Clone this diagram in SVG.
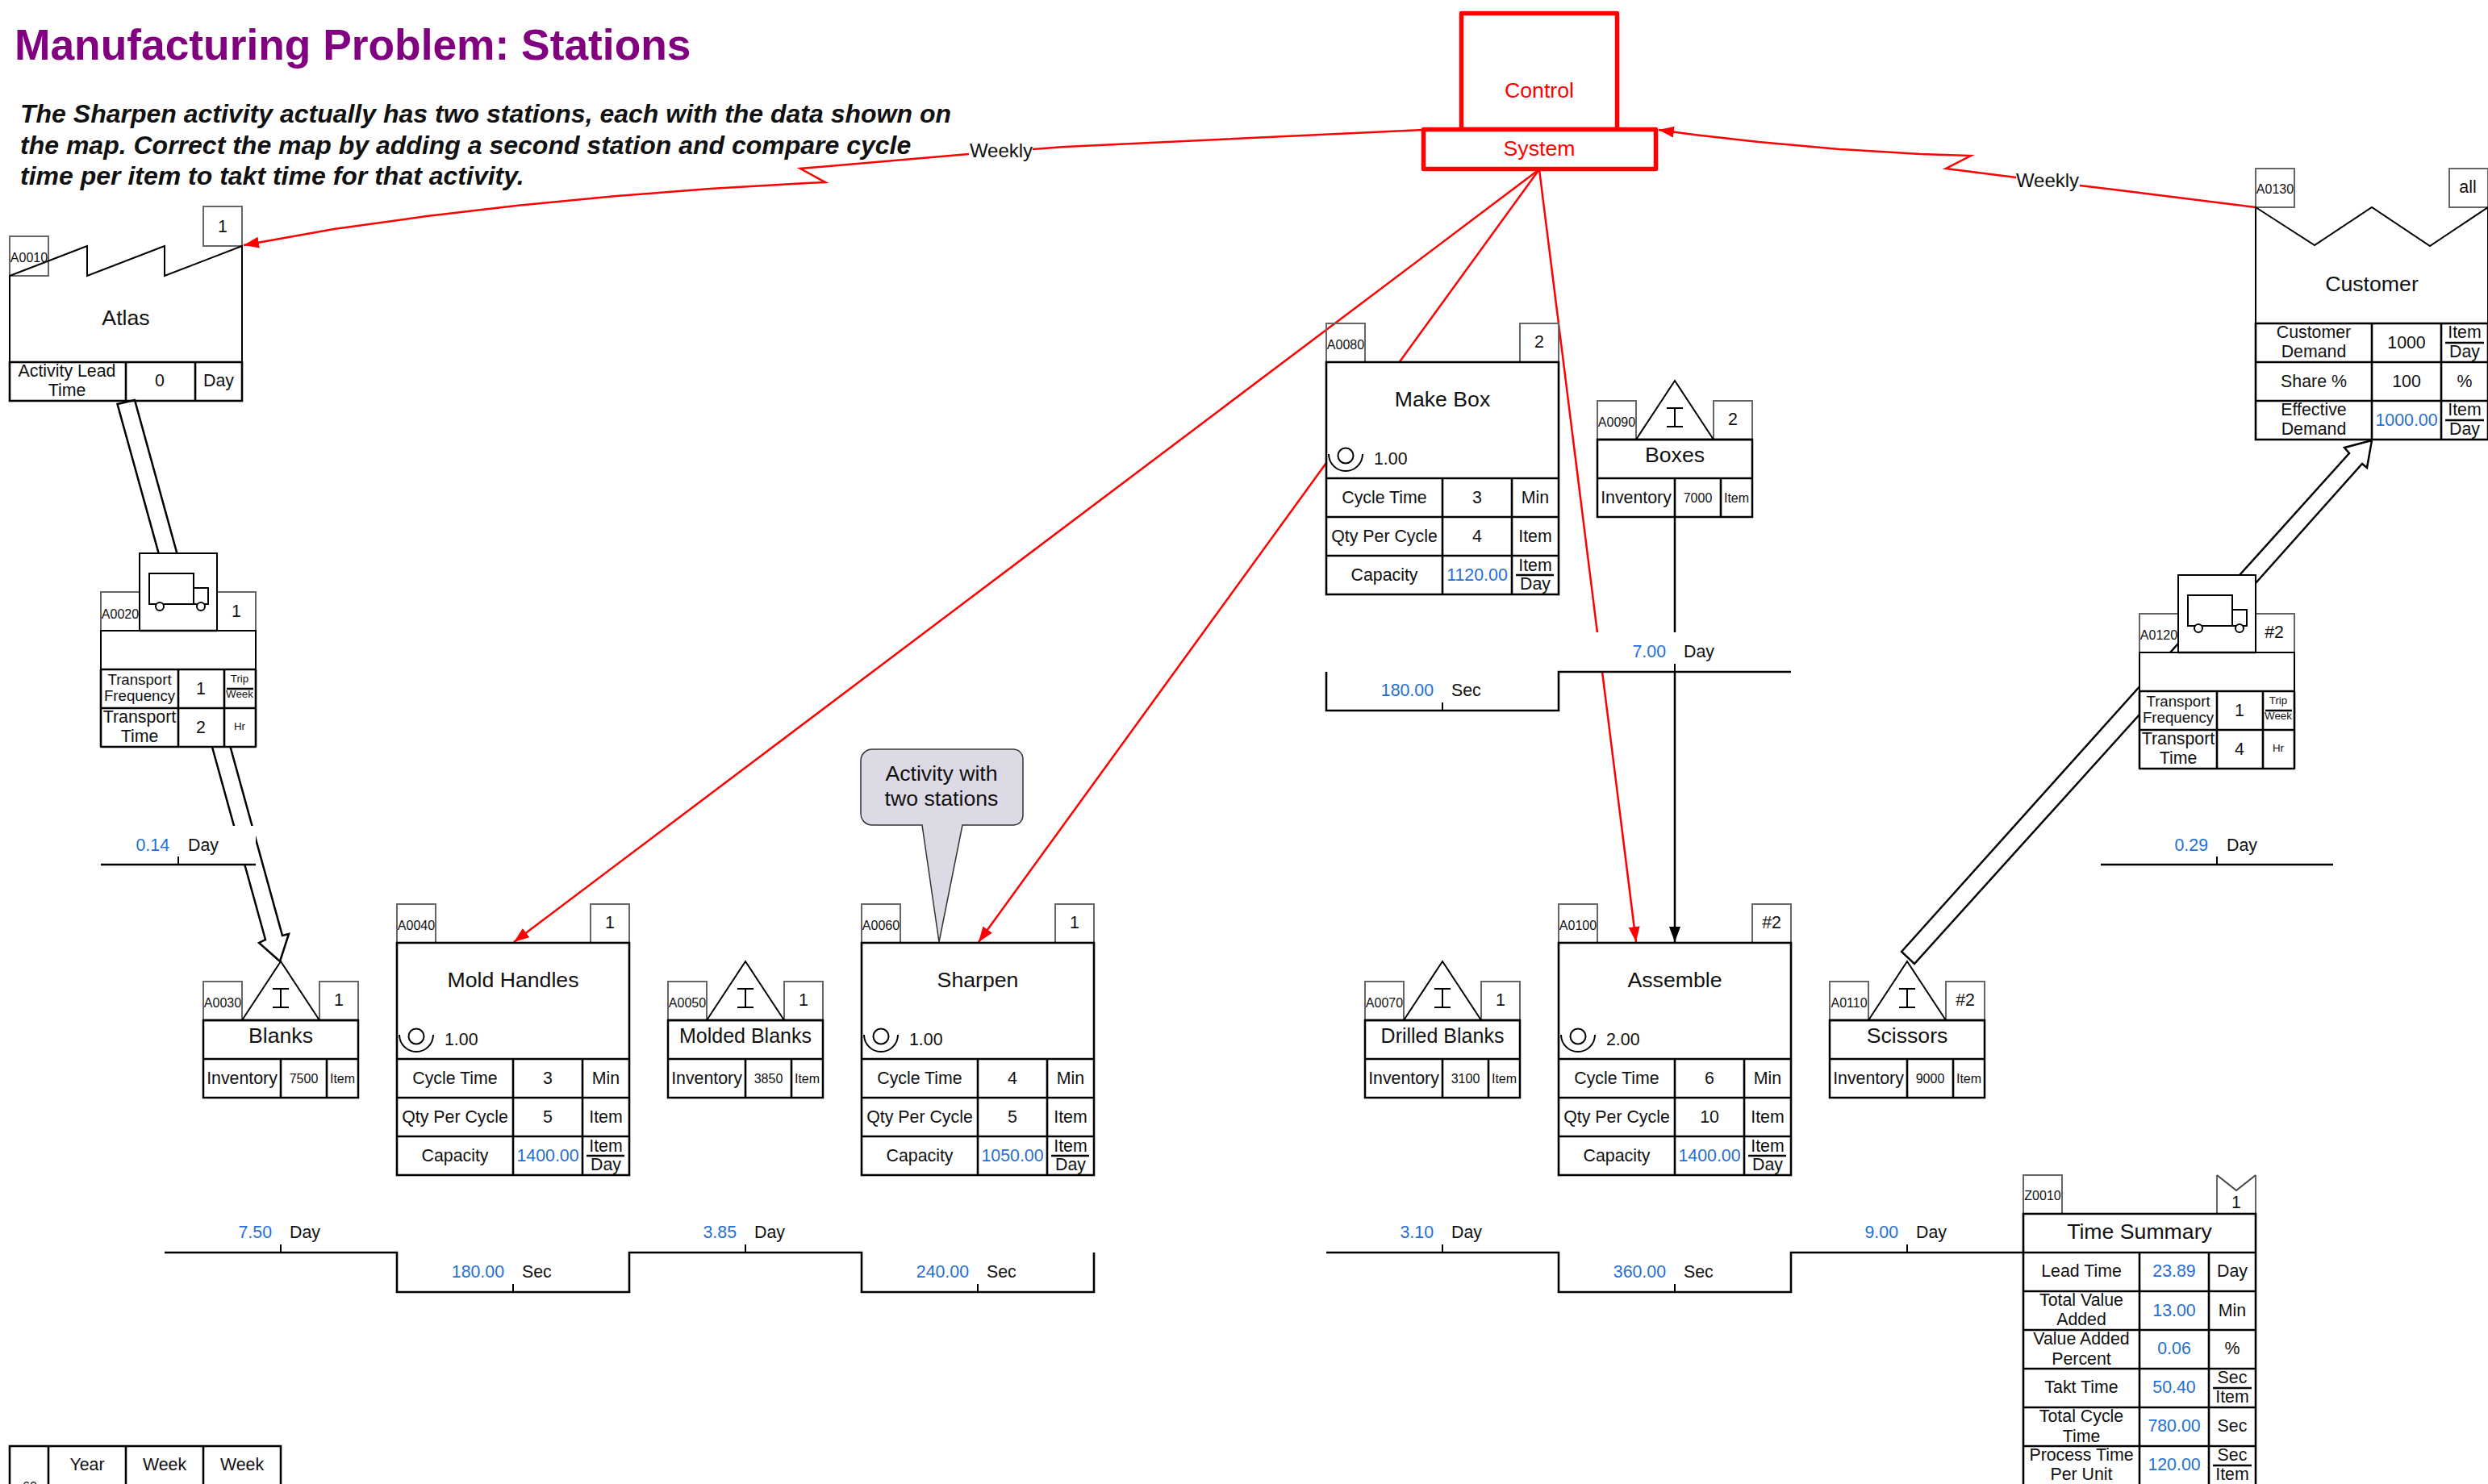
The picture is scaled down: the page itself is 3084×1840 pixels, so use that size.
<svg xmlns="http://www.w3.org/2000/svg" xmlns:xlink="http://www.w3.org/1999/xlink" width="3084" height="1840" viewBox="0 0 3084 1840" font-family="'Liberation Sans', Arial, sans-serif">
<style>
text{fill:#111;text-anchor:middle;font-size:21.33px}
.st{text-anchor:start}
.en{text-anchor:end}
.id{font-size:16px}
.sm{font-size:16px}
.xs{font-size:13.33px}
.tf{font-size:18.67px}
.nm{font-size:26.67px}
.bl{fill:#1f6fd6}
.rd{fill:#f00;font-size:26.67px}
.tag{fill:none;stroke:#666;stroke-width:2}
.bd{fill:#fff;stroke:#000;stroke-width:2.5}
.ln{fill:none;stroke:#000;stroke-width:2.6}
.th{fill:none;stroke:#000;stroke-width:2}
.fr{stroke:#000;stroke-width:2.5}
.red{fill:none;stroke:#f00;stroke-width:2.5}
.blk{fill:none;stroke:#000;stroke-width:2.5}
.ctl{fill:#fff;stroke:#f00;stroke-width:5.5;stroke-linejoin:round}
.ba{fill:#fff;stroke:#000;stroke-width:2.5}
.mask{fill:#fff;stroke:none}
</style>
<defs>
<marker id="ar" markerUnits="userSpaceOnUse" markerWidth="20" markerHeight="16" refX="19" refY="7" orient="auto"><path d="M0,0L19,7L0,14Z" fill="#f00"/></marker>
<marker id="ak" markerUnits="userSpaceOnUse" markerWidth="20" markerHeight="16" refX="19" refY="7" orient="auto"><path d="M0,0L19,7L0,14Z" fill="#000"/></marker>
<g id="proc">
<rect class="tag" x="0" y="0" width="48" height="48"/><rect class="tag" x="240" y="0" width="48" height="48"/>
<rect class="ln" x="0" y="48" width="288" height="288" style="fill:#fff"/>
<path class="ln" d="M0,192H288M0,240H288M0,288H288M144,192V336M230,192V336"/>
<circle class="th" cx="24" cy="164" r="9.5"/><path class="th" d="M3,162A21,21 0 0 0 45,162"/>
<path class="fr" d="M235,312H282"/>
</g>
<g id="inv">
<rect class="tag" x="0" y="0" width="48" height="48"/><rect class="tag" x="144" y="0" width="48" height="48"/>
<path class="th" d="M48,48L96,-25L144,48M96,9V32M86,9H106M86,32H106"/>
<rect class="ln" x="0" y="48" width="192" height="96" style="fill:#fff;stroke-width:2.5"/>
<path class="ln" d="M0,48H192M0,96H192M96,96V144M153,96V144"/>
</g>
<g id="trans">
<rect class="tag" x="0" y="0" width="48" height="48"/><rect class="tag" x="144" y="0" width="48" height="48"/>
<rect class="bd" x="48" y="-48" width="96" height="96" style="stroke-width:2"/>
<rect class="bd" x="0" y="48" width="192" height="144" style="stroke-width:2"/>
<path class="ln" d="M48,48H144M0,96H192M0,144H192M0,192H192M0,96V192M192,96V192M96,96V192M153,96V192"/>
<rect class="th" x="60" y="-23" width="55" height="38" style="fill:#fff"/><rect class="th" x="115" y="-5" width="18" height="20" style="fill:#fff"/>
<circle class="th" cx="73" cy="18" r="5" style="fill:#fff"/><circle class="th" cx="124" cy="18" r="5" style="fill:#fff"/>
<path class="fr" d="M156,120H189"/>
</g>
</defs>
<rect width="3084" height="1840" fill="#fff"/>
<g id="title">
<text class="st" x="18" y="74" font-weight="bold" style="font-size:53.33px;fill:#800080">Manufacturing Problem: Stations</text>
<text class="st" x="25" y="152" font-weight="bold" font-style="italic" style="font-size:32px">The Sharpen activity actually has two stations, each with the data shown on</text>
<text class="st" x="25" y="191" font-weight="bold" font-style="italic" style="font-size:32px">the map. Correct the map by adding a second station and compare cycle</text>
<text class="st" x="25" y="229" font-weight="bold" font-style="italic" style="font-size:32px">time per item to takt time for that activity.</text>
</g>
<g id="connectors">
<polygon class="ba" points="145.500,501 167,496 350,1160 358,1158 347,1192 321,1169 329,1165"/>
<polygon class="ba" points="2357,1180 2699,799 2776,713 2912,562 2906,555 2940,546 2934,580 2928,575 2796,723 2652,886 2373,1195"/>
<path class="red" marker-end="url(#ar)" d="M1764,161L1320,182L1201,191L992,209L1023,226L1000,227L880,234L765,243L640,255L529,268L414,284L302,304"/>
<path class="red" marker-end="url(#ar)" d="M2796,257L2620,235L2578,230L2499,220L2412,209L2443,193L2380,191L2280,185L2180,176L2100,167L2056,161"/>
<path class="red" marker-end="url(#ar)" d="M1908,210L637,1168"/>
<path class="red" marker-end="url(#ar)" d="M1908,210L1213,1168"/>
<path class="red" marker-end="url(#ar)" d="M1908,210L2028,1168"/>
<path class="blk" marker-end="url(#ak)" d="M2076,641V1168"/>
</g>
<g id="lbl-weekly-left"><rect class="mask" x="1201" y="172" width="79" height="30"/><text x="1241" y="195" style="font-size:24px">Weekly</text></g>
<g id="lbl-weekly-right"><rect class="mask" x="2499" y="210" width="79" height="30"/><text x="2538" y="232" style="font-size:24px">Weekly</text></g>

<g id="timeline-masks"><rect class="mask" x="125" y="1024" width="192" height="47"/><rect class="mask" x="1933" y="784" width="286" height="48"/></g>
<g id="control">
<rect class="ctl" x="1811.500" y="16.500" width="193" height="144"/>
<rect class="ctl" x="1764.500" y="160.500" width="288" height="49"/>
<text class="rd" x="1908" y="121">Control</text><text class="rd" x="1908" y="193">System</text>
</g>
<g id="A0010">
<rect class="tag" x="12" y="293" width="48" height="49"/><rect class="tag" x="252" y="256" width="48" height="49"/>
<path class="bd" d="M12,342L108,305V342L204,305V342L300,305V449H12Z" style="fill:none;stroke-width:2"/>
<rect class="ln" x="12" y="449" width="288" height="48"/><path class="ln" d="M156,449V497M242,449V497"/>
<text class="id" x="36" y="325" style="font-size:16px">A0010</text><text x="276" y="288">1</text>
<text class="nm" x="156" y="403">Atlas</text>
<text x="83" y="467">Activity Lead</text><text x="83" y="491">Time</text><text x="198" y="479">0</text><text x="271" y="479">Day</text>
</g>
<g id="A0130">
<rect class="tag" x="2796" y="209" width="48" height="48"/><rect class="tag" x="3036" y="209" width="48" height="48"/>
<path class="bd" d="M2796,257L2869,304L2940,257L3012,305L3084,257V401H2796Z" style="fill:none;stroke-width:2"/>
<rect class="ln" x="2796" y="401" width="288" height="144"/><path class="ln" d="M2796,449H3084M2796,497H3084M2940,401V545M3026,401V545"/>
<path class="fr" d="M3031,425H3079M3031,521H3079"/>
<text class="id" x="2820" y="240">A0130</text><text x="3059" y="239">all</text>
<text class="nm" x="2940" y="361">Customer</text>
<text x="2868" y="419">Customer</text><text x="2868" y="443">Demand</text><text x="2983" y="432">1000</text><text x="3055" y="419">Item</text><text x="3055" y="443">Day</text>
<text x="2868" y="480">Share %</text><text x="2983" y="480">100</text><text x="3055" y="480">%</text>
<text x="2868" y="515">Effective</text><text x="2868" y="539">Demand</text><text class="bl" x="2983" y="528">1000.00</text><text x="3055" y="515">Item</text><text x="3055" y="539">Day</text>
</g>
<g id="A0020" transform="translate(125,734)">
<use href="#trans"/>
<text class="id" x="24" y="33">A0020</text><text x="168" y="31">1</text>
<text class="tf" x="48" y="115">Transport</text><text class="tf" x="48" y="135">Frequency</text><text x="124" y="127">1</text>
<text class="xs" x="172" y="112">Trip</text><text class="xs" x="172" y="131">Week</text>
<text x="48" y="162">Transport</text><text x="48" y="186">Time</text><text x="124" y="175">2</text><text class="xs" x="172" y="171">Hr</text>
</g>
<g id="A0120" transform="translate(2652,761)">
<use href="#trans"/>
<text class="id" x="24" y="32">A0120</text><text x="167" y="30">#2</text>
<text class="tf" x="48" y="115">Transport</text><text class="tf" x="48" y="135">Frequency</text><text x="124" y="127">1</text>
<text class="xs" x="172" y="112">Trip</text><text class="xs" x="172" y="131">Week</text>
<text x="48" y="162">Transport</text><text x="48" y="186">Time</text><text x="124" y="175">4</text><text class="xs" x="172" y="171">Hr</text>
</g>
<g id="A0030" transform="translate(252,1217)">
<use href="#inv"/><text class="id" x="24" y="32">A0030</text><text x="168" y="30">1</text>
<text class="nm" x="96" y="76">Blanks</text><text x="48" y="127">Inventory</text><text class="sm" x="124.500" y="126">7500</text><text class="sm" x="172.500" y="126">Item</text>
</g>
<g id="A0050" transform="translate(828,1217)">
<use href="#inv"/><text class="id" x="24" y="32">A0050</text><text x="168" y="30">1</text>
<text x="96" y="76" style="font-size:25px">Molded Blanks</text><text x="48" y="127">Inventory</text><text class="sm" x="124.500" y="126">3850</text><text class="sm" x="172.500" y="126">Item</text>
</g>
<g id="A0070" transform="translate(1692,1217)">
<use href="#inv"/><text class="id" x="24" y="32">A0070</text><text x="168" y="30">1</text>
<text x="96" y="76" style="font-size:25px">Drilled Blanks</text><text x="48" y="127">Inventory</text><text class="sm" x="124.500" y="126">3100</text><text class="sm" x="172.500" y="126">Item</text>
</g>
<g id="A0090" transform="translate(1980,497)">
<use href="#inv"/><text class="id" x="24" y="32">A0090</text><text x="168" y="30">2</text>
<text class="nm" x="96" y="76">Boxes</text><text x="48" y="127">Inventory</text><text class="sm" x="124.500" y="126">7000</text><text class="sm" x="172.500" y="126">Item</text>
</g>
<g id="A0110" transform="translate(2268,1217)">
<use href="#inv"/><text class="id" x="24" y="32">A0110</text><text x="168" y="30">#2</text>
<text class="nm" x="96" y="76">Scissors</text><text x="48" y="127">Inventory</text><text class="sm" x="124.500" y="126">9000</text><text class="sm" x="172.500" y="126">Item</text>
</g>
<g id="A0040" transform="translate(492,1121)">
<use href="#proc"/><text class="id" x="24" y="32">A0040</text><text x="264" y="30">1</text>
<text class="nm" x="144" y="103">Mold Handles</text><text class="st" x="59" y="175">1.00</text>
<text x="72" y="223">Cycle Time</text><text x="187" y="223">3</text><text x="259" y="223">Min</text>
<text x="72" y="271">Qty Per Cycle</text><text x="187" y="271">5</text><text x="259" y="271">Item</text>
<text x="72" y="319">Capacity</text><text class="bl" x="187" y="319">1400.00</text><text x="259" y="307">Item</text><text x="259" y="330">Day</text>
</g>
<g id="A0060" transform="translate(1068,1121)">
<use href="#proc"/><text class="id" x="24" y="32">A0060</text><text x="264" y="30">1</text>
<text class="nm" x="144" y="103">Sharpen</text><text class="st" x="59" y="175">1.00</text>
<text x="72" y="223">Cycle Time</text><text x="187" y="223">4</text><text x="259" y="223">Min</text>
<text x="72" y="271">Qty Per Cycle</text><text x="187" y="271">5</text><text x="259" y="271">Item</text>
<text x="72" y="319">Capacity</text><text class="bl" x="187" y="319">1050.00</text><text x="259" y="307">Item</text><text x="259" y="330">Day</text>
</g>
<g id="A0100" transform="translate(1932,1121)">
<use href="#proc"/><text class="id" x="24" y="32">A0100</text><text x="264" y="30">#2</text>
<text class="nm" x="144" y="103">Assemble</text><text class="st" x="59" y="175">2.00</text>
<text x="72" y="223">Cycle Time</text><text x="187" y="223">6</text><text x="259" y="223">Min</text>
<text x="72" y="271">Qty Per Cycle</text><text x="187" y="271">10</text><text x="259" y="271">Item</text>
<text x="72" y="319">Capacity</text><text class="bl" x="187" y="319">1400.00</text><text x="259" y="307">Item</text><text x="259" y="330">Day</text>
</g>
<g id="A0080" transform="translate(1644,401)">
<use href="#proc"/><text class="id" x="24" y="32">A0080</text><text x="264" y="30">2</text>
<text class="nm" x="144" y="103">Make Box</text><text class="st" x="59" y="175">1.00</text>
<text x="72" y="223">Cycle Time</text><text x="187" y="223">3</text><text x="259" y="223">Min</text>
<text x="72" y="271">Qty Per Cycle</text><text x="187" y="271">4</text><text x="259" y="271">Item</text>
<text x="72" y="319">Capacity</text><text class="bl" x="187" y="319">1120.00</text><text x="259" y="307">Item</text><text x="259" y="330">Day</text>
</g>
<g id="callout">
<path d="M1081,929H1256A12,12 0 0 1 1268,941V1011A12,12 0 0 1 1256,1023H1193L1164,1168L1143,1023H1081A14,14 0 0 1 1067,1009V943A14,14 0 0 1 1081,929Z" fill="#ddd9e5" stroke="#333" stroke-width="1.500"/>
<text class="nm" x="1167" y="968">Activity with</text><text class="nm" x="1167" y="999">two stations</text>
</g>
<g id="timeline-1">
<path class="ln" d="M204,1553H492V1602H780V1553H1068V1602H1356V1553"/><path class="th" d="M348,1543V1553M636,1592V1602M924,1543V1553M1212,1592V1602"/>
<text class="bl en" x="337" y="1535">7.50</text><text class="st" x="359" y="1535">Day</text>
<text class="bl en" x="625" y="1584">180.00</text><text class="st" x="647" y="1584">Sec</text>
<text class="bl en" x="913" y="1535">3.85</text><text class="st" x="935" y="1535">Day</text>
<text class="bl en" x="1201" y="1584">240.00</text><text class="st" x="1223" y="1584">Sec</text>
</g>
<g id="timeline-2">
<path class="ln" d="M1644,1553H1932V1602H2220V1553H2508"/><path class="th" d="M1788,1543V1553M2076,1592V1602M2364,1543V1553"/>
<text class="bl en" x="1777" y="1535">3.10</text><text class="st" x="1799" y="1535">Day</text>
<text class="bl en" x="2065" y="1584">360.00</text><text class="st" x="2087" y="1584">Sec</text>
<text class="bl en" x="2353" y="1535">9.00</text><text class="st" x="2375" y="1535">Day</text>
</g>
<g id="timeline-3">
<path class="ln" d="M1644,833V881H1932V833H2220"/><path class="th" d="M1788,871V881M2076,823V833"/>
<text class="bl en" x="1777" y="863">180.00</text><text class="st" x="1799" y="863">Sec</text>
<text class="bl en" x="2065" y="815">7.00</text><text class="st" x="2087" y="815">Day</text>
</g>
<g id="timeline-4">
<path class="ln" d="M125,1072H317"/><path class="th" d="M221,1062V1072"/>
<text class="bl en" x="210" y="1055">0.14</text><text class="st" x="233" y="1055">Day</text>
</g>
<g id="timeline-5">
<path class="ln" d="M2604,1072H2892"/><path class="th" d="M2748,1062V1072"/>
<text class="bl en" x="2737" y="1055">0.29</text><text class="st" x="2760" y="1055">Day</text>
</g>
<g id="Z0010">
<rect class="tag" x="2508" y="1457" width="48" height="48"/><path class="tag" d="M2748,1457V1505M2796,1457V1505"/><path class="th" d="M2748,1457L2772,1476L2796,1457" style="stroke:#444"/>
<rect class="ln" x="2508" y="1505" width="288" height="340"/>
<path class="ln" d="M2508,1553H2796M2508,1601H2796M2508,1649H2796M2508,1697H2796M2508,1745H2796M2508,1793H2796M2652,1553V1845M2738,1553V1845"/>
<path class="fr" d="M2743,1721H2791M2743,1817H2791"/>
<text class="id" x="2532" y="1488">Z0010</text><text x="2772" y="1498">1</text>
<text class="nm" x="2652" y="1536">Time Summary</text>
<text x="2580" y="1583">Lead Time</text><text class="bl" x="2695" y="1583">23.89</text><text x="2767" y="1583">Day</text>
<text x="2580" y="1619">Total Value</text><text x="2580" y="1643">Added</text><text class="bl" x="2695" y="1632">13.00</text><text x="2767" y="1632">Min</text>
<text x="2580" y="1667">Value Added</text><text x="2580" y="1692">Percent</text><text class="bl" x="2695" y="1679">0.06</text><text x="2767" y="1679">%</text>
<text x="2580" y="1727">Takt Time</text><text class="bl" x="2695" y="1727">50.40</text><text x="2767" y="1715">Sec</text><text x="2767" y="1739">Item</text>
<text x="2580" y="1763">Total Cycle</text><text x="2580" y="1788">Time</text><text class="bl" x="2695" y="1775">780.00</text><text x="2767" y="1775">Sec</text>
<text x="2580" y="1811">Process Time</text><text x="2580" y="1835">Per Unit</text><text class="bl" x="2695" y="1823">120.00</text><text x="2767" y="1811">Sec</text><text x="2767" y="1835">Item</text>
</g>
<g id="period-table">
<rect class="ln" x="12" y="1793" width="336" height="60"/><path class="ln" d="M60,1793V1853M156,1793V1853M252,1793V1853"/>
<text x="108" y="1823">Year</text><text x="204" y="1823">Week</text><text x="300" y="1823">Week</text>
<text x="37" y="1849" class="sm">60</text>
</g>
</svg>
